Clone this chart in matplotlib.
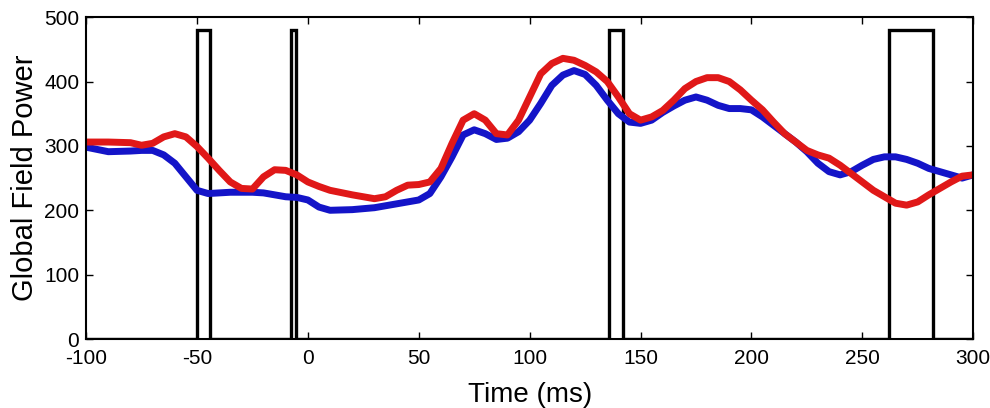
import numpy as np
import matplotlib
matplotlib.use('Agg')
import matplotlib.pyplot as plt

# time axis samples (ms)
time_ms = [-100, -90, -80, -75, -70, -65, -60, -55, -50, -45, -40, -35, -30, -25,
           -20, -15, -10, -5, 0, 5, 10, 20, 30, 35, 40, 45, 50, 55, 60, 65, 70,
           75, 80, 85, 90, 95, 100, 105, 110, 115, 120, 125, 130, 135, 140, 145,
           150, 155, 160, 165, 170, 175, 180, 185, 190, 195, 200, 205, 210, 215,
           220, 225, 230, 235, 240, 245, 250, 255, 260, 265, 270, 275, 280, 285,
           290, 295, 300]

gfp_blue = [298, 291, 292, 293, 293, 286, 273, 252, 231, 226, 227, 228, 228, 228,
            227, 224, 221, 220, 216, 205, 200, 201, 204, 207, 210, 213, 216, 226,
            252, 283, 317, 325, 319, 310, 312, 322, 340, 366, 394, 410, 417, 411,
            394, 371, 350, 337, 335, 340, 352, 362, 371, 376, 371, 363, 358, 358,
            356, 345, 332, 319, 306, 291, 273, 260, 255, 260, 270, 279, 283, 283,
            279, 273, 265, 260, 255, 250, 255]

gfp_red = [306, 306, 305, 301, 304, 314, 319, 314, 299, 281, 262, 244, 234, 233,
           252, 263, 262, 255, 244, 237, 231, 224, 218, 221, 231, 239, 240, 244,
           265, 304, 340, 350, 340, 319, 317, 340, 376, 412, 428, 436, 433, 425,
           415, 400, 376, 350, 340, 345, 355, 371, 389, 400, 406, 406, 400, 387,
           371, 356, 337, 319, 306, 293, 286, 281, 270, 257, 244, 231, 221, 211,
           208, 213, 224, 234, 244, 253, 255]

# significance windows (ms)
win_start = [-50, -7.5, 136, 262]
win_end = [-44, -5.5, 142, 282]
win_height = 480

# build step trace for the windows
step_x = [-100]
step_y = [0]
for s, e in zip(win_start, win_end):
    step_x += [s, s, e, e]
    step_y += [0, win_height, win_height, 0]
step_x.append(300)
step_y.append(0)

plt.rcParams['font.family'] = ['Liberation Sans', 'DejaVu Sans']
plt.rcParams['axes.unicode_minus'] = False

fig = plt.figure(figsize=(9.9, 4.08), dpi=100)
ax = fig.add_axes([0.087, 0.169, 0.896, 0.789])

ax.plot(step_x, step_y, color='black', lw=2.4, solid_joinstyle='miter')
ax.plot(time_ms, gfp_blue, color='#1414c8', lw=5, solid_capstyle='butt')
ax.plot(time_ms, gfp_red, color='#e01818', lw=5, solid_capstyle='butt')

ax.set_xlim(-100, 300)
ax.set_ylim(0, 500)
ax.set_xticks(np.arange(-100, 301, 50))
ax.set_yticks(np.arange(0, 501, 100))
ax.tick_params(direction='in', top=True, right=True, length=5, width=1,
               labelsize=15)
ax.tick_params(axis='x', pad=7)
ax.tick_params(axis='y', pad=5)
for sp in ax.spines.values():
    sp.set_linewidth(1.5)

ax.set_xlabel('Time (ms)', fontsize=20, labelpad=10)
ax.set_ylabel('Global Field Power', fontsize=21, labelpad=4)

plt.savefig('out.png', dpi=100)
